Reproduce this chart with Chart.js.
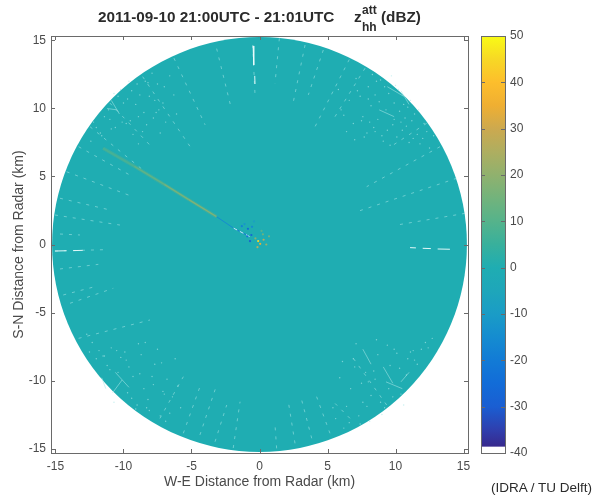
<!DOCTYPE html>
<html>
<head>
<meta charset="utf-8">
<script src="https://cdn.jsdelivr.net/npm/chart.js@4"></script>
<style>
  html, body { margin: 0; background: #fff; overflow: hidden; }
  #page { position: relative; width: 595px; height: 499px; font-family: "Liberation Sans", sans-serif; color: #2b2b2b; }
  canvas { position: absolute; top: 0; }
  .txt { position: absolute; white-space: nowrap; }
  .b { font-weight: bold; font-size: 15.3px; }
  .s { font-weight: bold; font-size: 12px; }
</style>
</head>
<body>
<div id="page">
  <canvas id="radar" width="595" height="499" style="left:0"></canvas>
  <canvas id="cbar" width="125" height="499" style="left:470px"></canvas>
  <div class="txt b" style="left:98px;top:8px">2011-09-10 21:00UTC - 21:01UTC</div>
  <div class="txt b" style="left:354px;top:8px">z</div>
  <div class="txt s" style="left:362px;top:3px">att</div>
  <div class="txt s" style="left:362px;top:20px">hh</div>
  <div class="txt b" style="left:381px;top:8px">(dBZ)</div>
  <div class="txt" style="left:491px;top:480px;font-size:13.5px">(IDRA / TU Delft)</div>
</div>
<script>
const xTicks = [-15, -10, -5, 0, 5, 10, 15];
const yTicks = [-15, -10, -5, 0, 5, 10, 15];
const cbarTicks = [-40, -30, -20, -10, 0, 10, 20, 30, 40, 50];
const diskRadius = 15.25; // km

// colour ramp
const rampLevels = [-38.7, -35, -30, -25, -20, -15, -10, -5, 0, 5, 10, 15, 20, 25, 30, 35, 40, 45, 50];
const rampColors = ["#38288c", "#2f3fae", "#1a5ed2", "#126cd8", "#127bd6", "#158cd0", "#1a9cc6", "#1ea6ba", "#1fadb2",
  "#38b09c", "#55b38b", "#72b37c", "#90b16e", "#aeae60", "#cca94f", "#efaf32", "#fdbe2c", "#f7d825", "#f9fb15"];

// white-ish radial dropouts, [x0, y0, x1, y1] in km
const dropouts = [
  [-0.5, 14.67, -0.33, 11], [-3.15, 14.4, -2.05, 9.9], [-6.29, 13.7, -4, 8.8], [-8.59, 12.34, -5.1, 7.2],
  [-11, 10.4, -8.05, 7.3], [-12.46, 8.66, -8.57, 5.48], [-13.3, 7.19, -9.3, 4.98], [-14.18, 5.35, -9.3, 3.51],
  [-14.67, 3.4, -11, 2.54], [-15.04, 2.17, -10.26, 1.43], [-14.67, 0.77, -13.2, 0.7],
  [1.46, 15.16, 1.14, 11.85], [3.35, 14.67, 2.49, 10.5], [4.69, 14.3, 3.59, 11], [6.6, 13.6, 3.96, 8.42],
  [7.76, 12.96, 5.55, 9.4], [12.29, 8.91, 9.84, 7.32], [13.27, 7.19, 7.88, 4.25], [14.5, 4.87, 7.15, 2.41],
  [15.11, 2.29, 10.09, 1.43],
  [-15.04, -0.48, -11.36, -0.38], [-14.67, -1.8, -11.85, -1.46], [-14.43, -3.71, -12.1, -3.1],
  [-13.93, -4.32, -10.75, -3.22], [-13.3, -6.9, -8.05, -5.55], [-5.6, -13.88, -4.38, -10.46],
  [-1.93, -14.96, -1.43, -11.56], [-4.38, -14, -3.15, -10.33], [-7.32, -12.78, -5.6, -9.72], [-3.27, -14.5, -2.41, -11.8],
  [1.26, -14.99, 1.14, -13.27], [2.61, -14.62, 2.12, -11.56], [3.84, -14.25, 3.1, -11.43],
  [5.18, -13.88, 4.2, -11.19], [6.65, -12.78, 5.43, -11.56], [9.35, -11.8, 6.9, -8.37]
];

// the brighter dashes just east of the radar's far edge
const brightDashes = [[11.07, -0.23, 11.5, -0.25], [12.0, -0.28, 12.6, -0.3], [13.1, -0.33, 14, -0.35],
  [-15.04, -0.48, -14.2, -0.46], [-13.7, -0.45, -13, -0.43], [-0.47, 14.6, -0.42, 13.2], [-0.35, 12.4, -0.33, 11.8]];

// short bright scratches in the diagonal sectors, [x0, y0, x1, y1] in km
const scratches = [
  [-10.9, 10.6, -10.3, 9.6], [-11.2, 10.0, -10.5, 9.9], [-10.1, -9.96, -10.8, -10.9], [-10.6, -9.4, -9.6, -10.5],
  [-11.6, -9.8, -11.3, -10.6], [9.4, 11.6, 10.6, 10.9], [10.4, 11.3, 11, 10.3], [8.8, 9.9, 9.9, 9.4],
  [9.3, -10.1, 10.5, -10.6], [9.1, -9.0, 9.8, -10.2], [11, -9.4, 10.4, -10.1], [7.6, -7.7, 8.2, -8.8]
];

const speckleX = [7.1, 7.6, 8.0, 8.4, 8.9, 9.3, 9.8, 10.2, 10.7, 11.1, 11.6, 12.1, 6.6, 7.4, 8.2, 8.7, 9.5, 10.1, 10.9, 11.4,
  7.9, 8.6, 9.1, 9.9, 10.5, 11.3, 6.9, 7.7, 8.5, 9.4, 10.3, 11.8, 12.5, 8.1, 9.7,
  5.8, 6.2, 7.2, 7.5, 8.3, 8.8, 9.0, 9.6, 10.0, 10.4, 10.8, 11.2, 11.7, 12.3, 6.4, 7.0, 8.0, 9.2, 10.6, 12.0, 12.8, 6.0, 8.5, 9.9, 11.0,
  -6.6, -7.1, -7.5, -8.1, -8.4, -8.9, -9.4, -9.8, -10.4, -10.9, -11.4, -12, -7.8, -8.6, -9.1, -9.6, -10.1, -10.7, -11.7,
  -6.9, -7.3, -8.2, -8.8, -9.3, -10.2, -11.1, -12.4, -7.6, -8.9,
  -6.3, -7.0, -7.4, -7.9, -8.5, -9.0, -9.5, -10.0, -10.6, -11.0, -11.6, -12.2, -8.3, -9.7, -6.1, -7.7,
  -6.2, -6.8, -7.3, -7.7, -8.2, -8.7, -9.1, -9.6, -10.2, -10.7, -11.2, -11.8, -12.3, -7.1, -7.9, -8.5, -9.4, -9.9, -10.9,
  -6.4, -7.5, -8.1, -8.8, -9.7, -10.4, -11.5, -6.9, -8.4, -12.7,
  -5.8, -6.6, -7.2, -7.8, -8.3, -8.9, -9.3, -9.8, -10.5, -11.0, -11.4, -12.0, -12.5, -6.0, -7.0, -9.0,
  5.9, 6.4, 6.9, 7.3, 7.8, 8.2, 8.7, 9.2, 9.6, 10.1, 10.6, 11.1, 11.6, 12.2, 6.7, 7.5, 8.4, 8.9, 9.4, 10.3, 10.9,
  7.1, 7.9, 8.6, 9.8, 11.3, 5.6, 6.2, 12.7,
  6.1, 6.6, 7.0, 7.6, 8.1, 8.5, 9.0, 9.5, 9.9, 10.4, 10.8, 11.4, 11.9, 12.4, 5.4, 7.4, 8.0
];
const speckleY = [12.2, 9.4, 11.6, 8.6, 12.1, 9.9, 8.8, 11.4, 9.3, 10.6, 8.1, 8.9, 10.6, 10.9, 10.2, 9.2, 11.1, 7.9, 10.1, 9.6,
  8.2, 12.0, 7.6, 10.4, 8.4, 7.8, 8.9, 7.9, 11.0, 8.4, 9.8, 7.4, 7.1, 9.0, 12.4,
  11.4, 9.5, 11.3, 9.1, 12.5, 10.5, 8.0, 7.3, 11.7, 9.0, 8.7, 9.1, 9.9, 8.3, 8.3, 7.7, 10.7, 11.6, 10.3, 7.8, 8.0, 9.9, 8.3, 9.2, 7.5,
  12.4, 10.4, 11.8, 10.9, 12.0, 9.4, 11.3, 8.9, 10.9, 8.5, 9.4, 8.6, 9.3, 8.3, 10.3, 12.0, 9.0, 11.1, 8.2,
  9.0, 8.2, 11.9, 11.0, 8.1, 11.4, 9.9, 7.6, 9.7, 7.4,
  11.0, 11.6, 9.9, 12.6, 9.7, 11.8, 9.1, 10.4, 8.6, 9.2, 8.0, 9.0, 8.8, 10.7, 9.6, 10.6,
  -8.4, -9.9, -12.6, -8.8, -11.4, -8.1, -12.1, -9.0, -8.3, -11.6, -8.9, -7.8, -7.2, -10.8, -9.7, -10.6, -11.3, -7.9, -7.6,
  -11.2, -7.7, -12.2, -9.5, -10.9, -9.4, -8.2, -13.0, -7.2, -6.6,
  -12.0, -12.4, -8.7, -10.3, -12.0, -7.3, -9.7, -8.5, -7.8, -9.2, -8.2, -8.4, -7.9, -10.4, -11.0, -11.8,
  -9.8, -11.9, -8.4, -12.6, -9.4, -11.1, -8.1, -12.0, -8.9, -8.0, -11.8, -7.9, -8.8, -7.2, -10.6, -10.2, -9.3, -11.6, -7.4, -9.1, -8.4,
  -7.3, -11.9, -7.0, -11.2, -7.8, -12.8, -13.5, -6.9,
  -8.6, -13.1, -9.0, -11.6, -13.0, -9.9, -12.5, -10.6, -7.7, -11.0, -9.6, -8.5, -7.7, -7.6, -12.0, -13.2, -10.1
];

// ground clutter streak towards the NW and the bits around the radar
const streakX = [-11.5, -9.2, -7.0, -5.2, -3.15];
const streakY = [7.07, 5.75, 4.42, 3.3, 2.04];
const streakDbz = [8, 12, 16, 18, 6];
const tailX = [-3.15, -1.9, -0.7];
const tailY = [2.04, 1.2, 0.57];
const tailDbz = [-15, -20, -22];
const nearX = [-0.1, 0.05, 0.3, -0.3, -0.6, -0.85, -0.55, 0.5, -0.15, 0.25, -0.9, -1.1, 0.7, -0.4, -1.3, -0.7, 0.15];
const nearY = [0.25, 0.05, 0.35, 0.45, 0.7, 1.15, 1.3, 0.0, -0.2, 0.75, 0.6, 1.5, 0.6, 1.7, 1.35, 0.25, 1.0];
const nearDbz = [45, 35, 28, 18, -28, -25, -15, 22, 26, 14, -22, -12, 15, -8, -18, -30, 10];

const pts = (xs, ys) => xs.map((x, i) => ({ x, y: ys[i] }));

function segments(list) {
  const out = [];
  list.forEach(s => { out.push({ x: s[0], y: s[1] }, { x: s[2], y: s[3] }, { x: NaN, y: NaN }); });
  return out;
}

function rampColor(v) {
  let i = 0;
  while (i < rampLevels.length - 2 && v > rampLevels[i + 1]) i++;
  const t = Math.max(0, Math.min(1, (v - rampLevels[i]) / (rampLevels[i + 1] - rampLevels[i])));
  const hex = c => [1, 3, 5].map(k => parseInt(c.substr(k, 2), 16));
  const a = hex(rampColors[i]), b = hex(rampColors[i + 1]);
  return "rgb(" + a.map((p, k) => Math.round(p + (b[k] - p) * t)).join(",") + ")";
}

// MATLAB style box with the ticks pointing inwards
const inwardTicks = {
  id: "inwardTicks",
  afterDraw(chart) {
    const { ctx, chartArea: a, scales } = chart;
    ctx.save();
    ctx.strokeStyle = "#6a6a6a";
    ctx.lineWidth = 1;
    ctx.strokeRect(a.left + 0.5, a.top + 0.5, a.right - a.left, a.bottom - a.top);
    ctx.beginPath();
    const len = 4;
    if (scales.x.options.display) {
      scales.x.ticks.forEach(t => {
        const p = Math.round(scales.x.getPixelForValue(t.value)) + 0.5;
        ctx.moveTo(p, a.top); ctx.lineTo(p, a.top + len);
        ctx.moveTo(p, a.bottom); ctx.lineTo(p, a.bottom - len);
      });
    }
    scales.y.ticks.forEach(t => {
      const p = Math.round(scales.y.getPixelForValue(t.value)) + 0.5;
      ctx.moveTo(a.left, p); ctx.lineTo(a.left + len, p);
      ctx.moveTo(a.right, p); ctx.lineTo(a.right - len, p);
    });
    ctx.stroke();
    ctx.restore();
  }
};

const tickFont = { family: "Liberation Sans", size: 12 };
const titleFont = { family: "Liberation Sans", size: 14 };
const inkColor = "#4a4a4a";

new Chart(document.getElementById("radar"), {
  type: "scatter",
  data: {
    datasets: [
      {
        data: pts(nearX, nearY), order: 1, pointRadius: 1.1, pointBorderWidth: 0,
        backgroundColor: nearDbz.map(rampColor)
      },
      {
        data: segments([[tailX[1], tailY[1], tailX[2], tailY[2]]]), order: 2, showLine: true, pointRadius: 0,
        borderColor: "#c8f4f4", borderWidth: 1, borderDash: [4, 3], spanGaps: false
      },
      {
        data: pts(tailX, tailY), order: 3, showLine: true, pointRadius: 0, borderWidth: 1,
        segment: { borderColor: c => rampColor(tailDbz[c.p0DataIndex]) }
      },
      {
        data: pts(streakX, streakY), order: 4, showLine: true, pointRadius: 0, borderWidth: 1.4,
        segment: { borderColor: c => rampColor(streakDbz[c.p0DataIndex]) }
      },
      {
        data: pts(streakX, streakY), order: 5, showLine: true, pointRadius: 0, borderWidth: 3.5,
        borderColor: "rgba(110,178,125,0.35)"
      },
      {
        data: segments(brightDashes), order: 6, showLine: true, pointRadius: 0,
        borderColor: "rgba(235,252,252,0.95)", borderWidth: 1, spanGaps: false
      },
      {
        data: pts(speckleX, speckleY), order: 7, pointRadius: 0.7, pointBorderWidth: 0,
        backgroundColor: "rgba(170,232,232,0.65)"
      },
      {
        data: segments(scratches), order: 8, showLine: true, pointRadius: 0,
        borderColor: "rgba(170,232,232,0.55)", borderWidth: 1, spanGaps: false
      },
      {
        data: segments(dropouts), order: 9, showLine: true, pointRadius: 0,
        borderColor: "rgba(170,232,232,0.55)", borderWidth: 1, borderDash: [3, 6], spanGaps: false
      },
      {
        data: [{ x: 0, y: 0 }], order: 10, pointBorderWidth: 0, backgroundColor: rampColor(0),
        pointRadius: c => c.chart.scales.x.getPixelForValue(diskRadius) - c.chart.scales.x.getPixelForValue(0)
      }
    ]
  },
  options: {
    responsive: false,
    animation: false,
    events: [],
    devicePixelRatio: 1,
    layout: { padding: { top: 36, right: 127, left: 0, bottom: 0 } },
    plugins: { legend: { display: false }, tooltip: { enabled: false } },
    scales: {
      x: {
        type: "linear", min: -15.33, max: 15.33,
        afterFit: s => { s.height = 46; },
        afterBuildTicks: s => { s.ticks = xTicks.map(value => ({ value })); },
        grid: { display: false, drawTicks: false },
        border: { display: false },
        ticks: { font: tickFont, color: inkColor, padding: 6, maxRotation: 0, callback: v => String(v) },
        title: { display: true, text: "W-E Distance from Radar (km)", font: titleFont, color: inkColor, padding: { top: 0, bottom: 8 } }
      },
      y: {
        type: "linear", min: -15.33, max: 15.33,
        afterFit: s => { s.width = 51; },
        afterBuildTicks: s => { s.ticks = yTicks.map(value => ({ value })); },
        grid: { display: false, drawTicks: false },
        border: { display: false },
        ticks: { font: tickFont, color: inkColor, padding: 5, callback: v => String(v) },
        title: { display: true, text: "S-N Distance from Radar (km)", font: titleFont, color: inkColor, padding: { top: 11, bottom: 0 } }
      }
    }
  },
  plugins: [inwardTicks]
});

new Chart(document.getElementById("cbar"), {
  type: "bar",
  data: {
    labels: ["dBZ"],
    datasets: [
      { data: [[-40, rampLevels[0]]], backgroundColor: "#ffffff" },
      {
        data: [[rampLevels[0], rampLevels[rampLevels.length - 1]]],
        backgroundColor: c => {
          const s = c.chart.scales.y;
          const y0 = s ? s.getPixelForValue(rampLevels[0]) : NaN;
          const y1 = s ? s.getPixelForValue(50) : NaN;
          if (!isFinite(y0) || !isFinite(y1)) return rampColors[0];
          const g = c.chart.ctx.createLinearGradient(0, y0, 0, y1);
          rampLevels.forEach((v, i) => g.addColorStop((v - rampLevels[0]) / (50 - rampLevels[0]), rampColors[i]));
          return g;
        }
      }
    ]
  },
  options: {
    responsive: false,
    animation: false,
    events: [],
    devicePixelRatio: 1,
    layout: { padding: { top: 36, right: 0, left: 11, bottom: 46 } },
    plugins: { legend: { display: false }, tooltip: { enabled: false } },
    datasets: { bar: { grouped: false, barPercentage: 1, categoryPercentage: 1, borderWidth: 0 } },
    scales: {
      x: { display: false },
      y: {
        position: "right", min: -40, max: 50,
        afterFit: s => { s.width = 90; },
        afterBuildTicks: s => { s.ticks = cbarTicks.map(value => ({ value })); },
        grid: { display: false, drawTicks: false },
        border: { display: false },
        ticks: { font: tickFont, color: inkColor, padding: 5, callback: v => String(v) }
      }
    }
  },
  plugins: [inwardTicks]
});
</script>
</body>
</html>
